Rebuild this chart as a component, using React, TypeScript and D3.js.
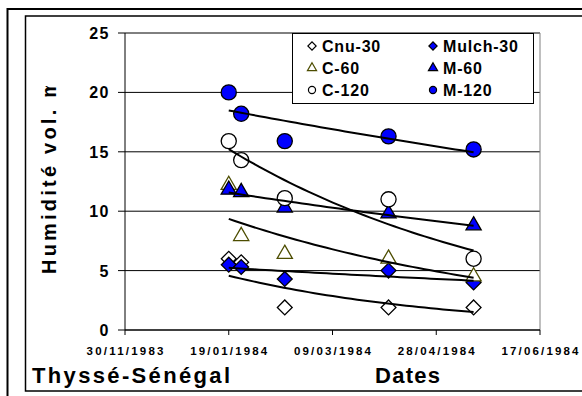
import * as d3 from 'd3';
import React from 'react';

// measurement dates and the six series (humidité vol.)
const dates = ['1984-01-19', '1984-01-25', '1984-02-15', '1984-04-05', '1984-05-16'];
const cnu30 = [6.0, 5.7, 1.9, 1.9, 1.9];
const mulch30 = [5.5, 5.3, 4.3, 5.0, 4.0];
const c60 = [12.2, 7.9, 6.4, 6.0, 4.5];
const m60 = [11.8, 11.6, 10.3, 9.8, 8.8];
const c120 = [15.9, 14.3, 11.1, 11.0, 6.0];
const m120 = [20.0, 18.2, 15.9, 16.3, 15.2];

const yTicks = [0, 5, 10, 15, 20, 25];
const xStart = '1983-11-30';
const xEnd = '1984-06-17';

const BLUE = '#0000ff';
const OLIVE = '#4d4d00';
const FONT = '"Liberation Sans", Arial, sans-serif';

const series = [
  { name: 'Cnu-30', values: cnu30, shape: 'diamond', fill: '#fff', stroke: '#000' },
  { name: 'Mulch-30', values: mulch30, shape: 'diamond', fill: BLUE, stroke: '#000' },
  { name: 'C-60', values: c60, shape: 'triangle', fill: '#fff', stroke: OLIVE },
  { name: 'M-60', values: m60, shape: 'triangle', fill: BLUE, stroke: '#000' },
  { name: 'C-120', values: c120, shape: 'circle', fill: '#fff', stroke: '#000' },
  { name: 'M-120', values: m120, shape: 'circle', fill: BLUE, stroke: '#000' },
];

const DAY = 86400000;

function marker(shape: string, big: boolean) {
  if (shape === 'circle') return d3.symbol(d3.symbolCircle, big ? 180 : 40)();
  if (shape === 'triangle') return d3.symbol(d3.symbolTriangle, big ? 100 : 36)();
  return d3.symbol(d3.symbolSquare, big ? 110 : 34)();
}

// Excel style exponential trendline y = a*exp(b*x)
function expFit(xs: number[], ys: number[]) {
  const ly = ys.map(Math.log);
  const mx = d3.mean(xs)!;
  const my = d3.mean(ly)!;
  let sxy = 0, sxx = 0;
  xs.forEach((x, i) => { sxy += (x - mx) * (ly[i] - my); sxx += (x - mx) * (x - mx); });
  const b = sxy / sxx;
  const a = my - b * mx;
  return (x: number) => Math.exp(a + b * x);
}

export default function App() {
  const left = 125, right = 540, top = 33, bottom = 330;

  const x = d3.scaleUtc()
    .domain([new Date(xStart), new Date(xEnd)])
    .range([left, right]);
  const y = d3.scaleLinear().domain([0, 25]).range([bottom, top]);

  const t0 = new Date(xStart).getTime();
  const xTicks = d3.range(0, 5).map(i => new Date(t0 + i * 50 * DAY));
  const fmt = d3.utcFormat('%d/%m/%Y');

  const pts = dates.map(d => new Date(d));
  const days = pts.map(d => (d.getTime() - t0) / DAY);

  const line = d3.line<[number, number]>()
    .x(d => x(new Date(t0 + d[0] * DAY)))
    .y(d => y(d[1]));

  const legendRows = [
    [series[0], series[1]],
    [series[2], series[3]],
    [series[4], series[5]],
  ];

  return (
    <svg width={582} height={396} style={{ position: 'fixed', left: 0, top: 0, background: '#fff' }}
      fontFamily={FONT} fontWeight="bold">
      <defs>
        <clipPath id="ytitle">
          <rect x={0} y={86} width={120} height={300} />
        </clipPath>
      </defs>
      {/* frames */}
      <rect x={7.5} y={9} width={600} height={400} fill="none" stroke="#000" strokeWidth={2} />
      <rect x={25.5} y={16} width={600} height={375} fill="none" stroke="#000" strokeWidth={1.5} />

      {/* grid */}
      {yTicks.filter(t => t > 0).map(t => (
        <line key={t} x1={left} x2={right} y1={y(t)} y2={y(t)} stroke="#000" strokeWidth={1} />
      ))}
      <line x1={right} x2={right} y1={top} y2={bottom} stroke="#808080" strokeWidth={1} />

      {/* y axis */}
      <line x1={left} x2={left} y1={top} y2={bottom} stroke="#000" strokeWidth={1} />
      {yTicks.map(t => (
        <g key={t}>
          <line x1={left - 7} x2={left} y1={y(t)} y2={y(t)} stroke="#000" />
          <text x={110} y={y(t) + 6} textAnchor="end" fontSize={16} letterSpacing={1.5}>{t}</text>
        </g>
      ))}

      {/* x axis */}
      <line x1={left} x2={right} y1={bottom} y2={bottom} stroke="#000" strokeWidth={1.5} />
      {xTicks.map((t, i) => (
        <g key={i}>
          <line x1={x(t)} x2={x(t)} y1={bottom} y2={bottom + 5} stroke="#000" />
          <text x={x(t) - 38.5} y={355} fontSize={11.5} textLength={77} lengthAdjust="spacing">{fmt(t)}</text>
        </g>
      ))}

      {/* titles */}
      <text x={32} y={383} fontSize={22} textLength={198} lengthAdjust="spacing">Thyssé-Sénégal</text>
      <text x={375} y={383} fontSize={22} textLength={65} lengthAdjust="spacing">Dates</text>
      <g clipPath="url(#ytitle)">
        <text transform="translate(56,274) rotate(-90)" fontSize={20} textLength={194} lengthAdjust="spacing">Humidité vol. m</text>
      </g>

      {/* markers */}
      {series.map(s => (
        <g key={s.name}>
          {s.values.map((v, i) => (
            <path key={i} d={marker(s.shape, true)!}
              transform={`translate(${x(pts[i])},${y(v)})${s.shape === 'diamond' ? ' rotate(45)' : ''}`}
              fill={s.fill} stroke={s.stroke} strokeWidth={1.3} />
          ))}
        </g>
      ))}

      {/* trend lines */}
      {series.map(s => {
        const f = expFit(days, s.values);
        const d0 = days[0], d1 = days[days.length - 1];
        const curve = d3.range(0, 41).map(k => {
          const dd = d0 + (d1 - d0) * k / 40;
          return [dd, f(dd)] as [number, number];
        });
        return <path key={s.name} d={line(curve)!} fill="none" stroke="#000" strokeWidth={2} />;
      })}

      {/* legend */}
      <rect x={292.5} y={33.5} width={241} height={70} fill="#fff" stroke="#000" />
      {legendRows.map((row, r) => row.map((s, c) => {
        const mx = c === 0 ? 312 : 433;
        const my = 46 + r * 22;
        return (
          <g key={s.name}>
            <path d={marker(s.shape, false)!}
              transform={`translate(${mx},${my})${s.shape === 'diamond' ? ' rotate(45)' : ''}`}
              fill={s.fill} stroke={s.stroke} strokeWidth={1.2} />
            <text x={mx + 10} y={my + 6} fontSize={16} letterSpacing={0.8}>{s.name}</text>
          </g>
        );
      }))}
    </svg>
  );
}
